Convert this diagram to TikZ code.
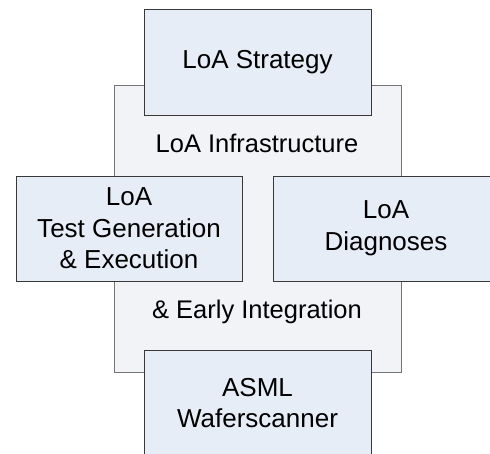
\documentclass[tikz,border=0pt]{standalone}
\usepackage{fontspec}
\setmainfont{Liberation Sans}
\usepackage{tikz}
\usetikzlibrary{positioning}

\definecolor{boxfill}{HTML}{E7EDF7}
\definecolor{platefill}{HTML}{F1F3F7}
\definecolor{boxline}{HTML}{383838}
\definecolor{plateline}{HTML}{747474}

\tikzset{
  boxnode/.style={draw=boxline, fill=boxfill, line width=0.9pt, align=center,
    minimum width=227pt, minimum height=106pt, inner sep=0pt,
    font=\fontsize{26}{31.5}\selectfont},
  backplate/.style={draw=plateline, fill=platefill, line width=0.9pt,
    minimum width=287pt, minimum height=287pt, inner sep=0pt},
  platetext/.style={inner sep=0pt, font=\fontsize{25.5}{31}\selectfont}
}

\begin{document}
\begin{tikzpicture}[x=1pt,y=1pt]
  \useasboundingbox (0,0) rectangle (490,-454);
  \clip (0,0) rectangle (490,-454);
  \fill[white] (0,0) rectangle (490,-454);
  \draw (257.5,-228.5)node[backplate](infra){};
  \draw (257.5,-62)node[boxnode](strategy){LoA Strategy};
  \draw (129,-228.5)node[boxnode, minimum width=226pt, minimum height=105pt](testgen){LoA\\Test Generation\\\& Execution};
  \draw (386,-228.5)node[boxnode, minimum width=226pt, minimum height=105pt](diag){LoA\\Diagnoses};
  \draw (257.5,-403)node[boxnode](scanner){ASML\\Waferscanner};
  \node[platetext] (infralabel) at (257,-143) {LoA Infrastructure};
  \node[platetext] (earlylabel) at (257,-312) {\& Early Integration};
\end{tikzpicture}
\end{document}
